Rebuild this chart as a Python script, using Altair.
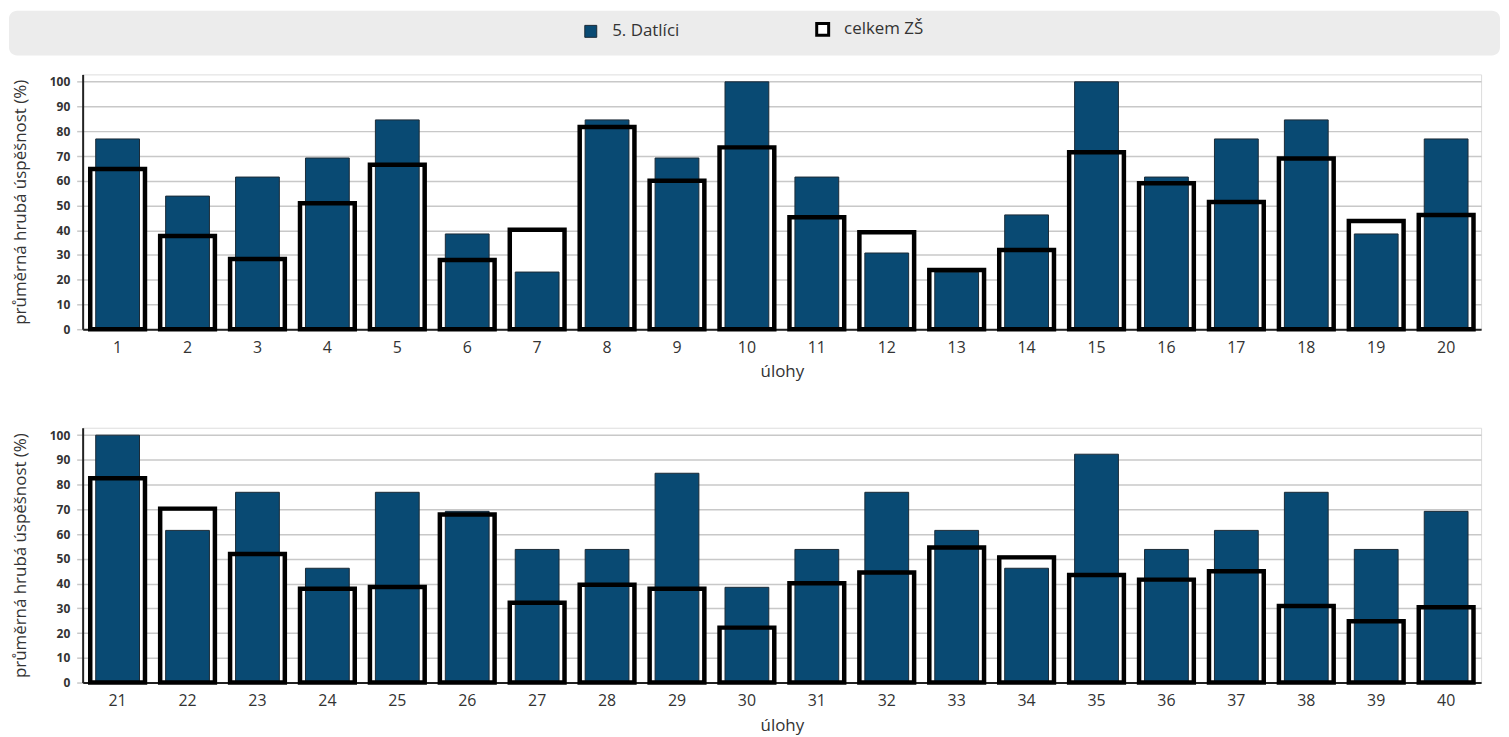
import altair as alt
import pandas as pd

# --- data ---
tasks_top = list(range(1, 21))
tasks_bottom = list(range(21, 41))

datlici_top = [76.9, 53.8, 61.5, 69.2, 84.6, 38.5, 23.1, 84.6, 69.2, 100.0,
               61.5, 30.8, 23.1, 46.2, 100.0, 61.5, 76.9, 84.6, 38.5, 76.9]
celkem_top = [64.8, 37.7, 28.4, 50.9, 66.5, 28.0, 40.2, 81.7, 60.0, 73.5,
              45.3, 39.2, 23.9, 32.0, 71.5, 59.0, 51.4, 69.0, 43.7, 46.2]

datlici_bottom = [100.0, 61.5, 76.9, 46.2, 76.9, 69.2, 53.8, 53.8, 84.6, 38.5,
                  53.8, 76.9, 61.5, 46.2, 92.3, 53.8, 61.5, 76.9, 53.8, 69.2]
celkem_bottom = [82.6, 70.3, 52.0, 37.9, 38.6, 67.9, 32.3, 39.5, 37.9, 22.2,
                 40.1, 44.5, 54.6, 50.6, 43.5, 41.6, 45.0, 30.9, 24.8, 30.4]

series_names = ["5. Datlíci", "celkem ZŠ"]

BLUE = "#094a73"
FONT = "Open Sans"


def long_frame(tasks, a, b):
    rows = []
    for t, va, vb in zip(tasks, a, b):
        rows.append({"task": t, "value": va, "series": series_names[0]})
        rows.append({"task": t, "value": vb, "series": series_names[1]})
    return pd.DataFrame(rows)


fill_scale = alt.Scale(domain=series_names, range=[BLUE, "white"])
stroke_scale = alt.Scale(domain=series_names, range=["#1b2a36", "black"])
sw_scale = alt.Scale(domain=series_names, range=[1, 3])
legend = alt.Legend(title=None)

W = 1405
H = 256


def panel(df, with_band=False):
    x = alt.X("task:O", scale=alt.Scale(paddingInner=0.2, paddingOuter=0.1),
              axis=alt.Axis(title="úlohy", labelAngle=0, ticks=False,
                            labelPadding=10, titlePadding=9,
                            domainColor="#222", domainWidth=2,
                            labelFontSize=16, labelColor="#333",
                            titleFontSize=17, titleColor="#333",
                            titleFontWeight="normal"))
    y = alt.Y("value:Q", scale=alt.Scale(domain=[0, 103], nice=False),
              axis=alt.Axis(title="průměrná hrubá úspěšnost (%)",
                            values=list(range(0, 101, 10)),
                            labelFontWeight="bold", labelFontSize=12,
                            labelColor="#333", tickColor="#c8c8c8",
                            tickSize=6, tickWidth=1.5, labelPadding=7,
                            domainColor="#222", domainWidth=2,
                            gridColor="#c8c8c8", gridWidth=1.5,
                            titleFontSize=17, titleColor="#333",
                            titleFontWeight="normal", titlePadding=20))
    base = alt.Chart(df)
    white = base.transform_filter(alt.datum.series == series_names[1]).mark_bar(
        size=55).encode(
        x=x, y=y,
        fill=alt.Fill("series:N", scale=fill_scale, legend=legend),
        stroke=alt.Stroke("series:N", scale=stroke_scale, legend=legend),
        strokeWidth=alt.StrokeWidth("series:N", scale=sw_scale, legend=legend),
    )
    blue = base.transform_filter(alt.datum.series == series_names[0]).mark_bar(
        size=44).encode(
        x=x, y=y,
        fill=alt.Fill("series:N", scale=fill_scale, legend=legend),
        stroke=alt.Stroke("series:N", scale=stroke_scale, legend=legend),
        strokeWidth=alt.StrokeWidth("series:N", scale=sw_scale, legend=legend),
    )
    outline = base.transform_filter(alt.datum.series == series_names[1]).mark_bar(
        size=55, fill="transparent", stroke="black", strokeWidth=4.5).encode(
        x=x, y=y)
    layers = [white, blue, outline]
    if with_band:
        band = alt.Chart(pd.DataFrame({"k": [0]})).mark_rect(
            color="#ececec", cornerRadius=8).encode(
            x=alt.value(-74), x2=alt.value(1424),
            y=alt.value(-64), y2=alt.value(-19))
        layers = [band] + layers
    return alt.layer(*layers).properties(width=W, height=H)


top = panel(long_frame(tasks_top, datlici_top, celkem_top), with_band=True)
bottom = panel(long_frame(tasks_bottom, datlici_bottom, celkem_bottom))

chart = alt.vconcat(top, bottom, spacing=46).properties(
    padding=0
).configure_view(stroke=None).configure(font=FONT).configure_legend(
    orient="none", legendX=502, legendY=-54, direction="horizontal",
    symbolType="square", symbolSize=144, labelOffset=13, columnPadding=131,
    labelFontSize=17, labelColor="#333", labelFont=FONT, padding=0
).configure_axis(labelFont=FONT, titleFont=FONT)

chart.save("out.html", embed_options={"renderer": "svg", "actions": False})
